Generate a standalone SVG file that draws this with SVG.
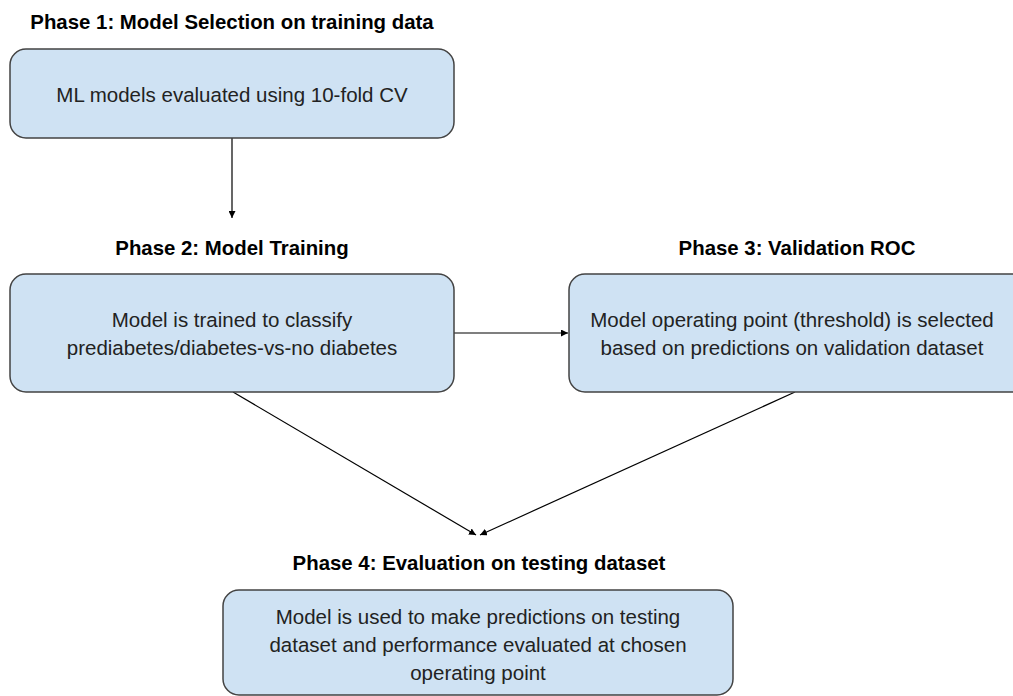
<svg xmlns="http://www.w3.org/2000/svg" width="1013" height="696" viewBox="0 0 1013 696">
<defs>
<style>
.box{fill:#cfe2f3;stroke:#434343;stroke-width:1.5}
.title{font-family:"Liberation Sans",Arial,sans-serif;font-weight:bold;font-size:20.4px;fill:#000;text-anchor:middle}
.txt{font-family:"Liberation Sans",Arial,sans-serif;font-size:20.5px;fill:#222;text-anchor:middle}
.conn{stroke:#000;stroke-width:1.2;fill:none}
</style>
<marker id="ah" viewBox="0 0 10 10" refX="10" refY="5" markerWidth="7" markerHeight="7" markerUnits="userSpaceOnUse" orient="auto">
<path d="M0,0 L10,5 L0,10 z" fill="#000"/>
</marker>
</defs>
<rect width="1013" height="696" fill="#fff"/>
<g id="connectors">
<line class="conn" x1="232" y1="138" x2="232" y2="218" marker-end="url(#ah)"/>
<line class="conn" x1="454" y1="333" x2="568" y2="333" marker-end="url(#ah)"/>
<line class="conn" x1="233" y1="392" x2="476" y2="535" marker-end="url(#ah)"/>
<line class="conn" x1="795" y1="392" x2="480" y2="535" marker-end="url(#ah)"/>
</g>
<g id="phase1">
<text class="title" x="232" y="29">Phase 1: Model Selection on training data</text>
<rect class="box" x="10" y="49" width="444" height="89" rx="16"/>
<text class="txt" x="232" y="102">ML models evaluated using 10-fold CV</text>
</g>
<g id="phase2">
<text class="title" x="232" y="255">Phase 2: Model Training</text>
<rect class="box" x="10" y="274" width="444" height="118" rx="16"/>
<text class="txt" x="232" y="327">Model is trained to classify</text>
<text class="txt" x="232" y="355">prediabetes/diabetes-vs-no diabetes</text>
</g>
<g id="phase3">
<text class="title" x="797" y="255">Phase 3: Validation ROC</text>
<rect class="box" x="569" y="274" width="460" height="118" rx="16"/>
<text class="txt" x="792" y="327">Model operating point (threshold) is selected</text>
<text class="txt" x="792" y="355">based on predictions on validation dataset</text>
</g>
<g id="phase4">
<text class="title" x="479" y="570">Phase 4: Evaluation on testing dataset</text>
<rect class="box" x="223" y="590" width="510" height="105" rx="16"/>
<text class="txt" x="478" y="624">Model is used to make predictions on testing</text>
<text class="txt" x="478" y="652">dataset and performance evaluated at chosen</text>
<text class="txt" x="478" y="680">operating point</text>
</g>
</svg>
